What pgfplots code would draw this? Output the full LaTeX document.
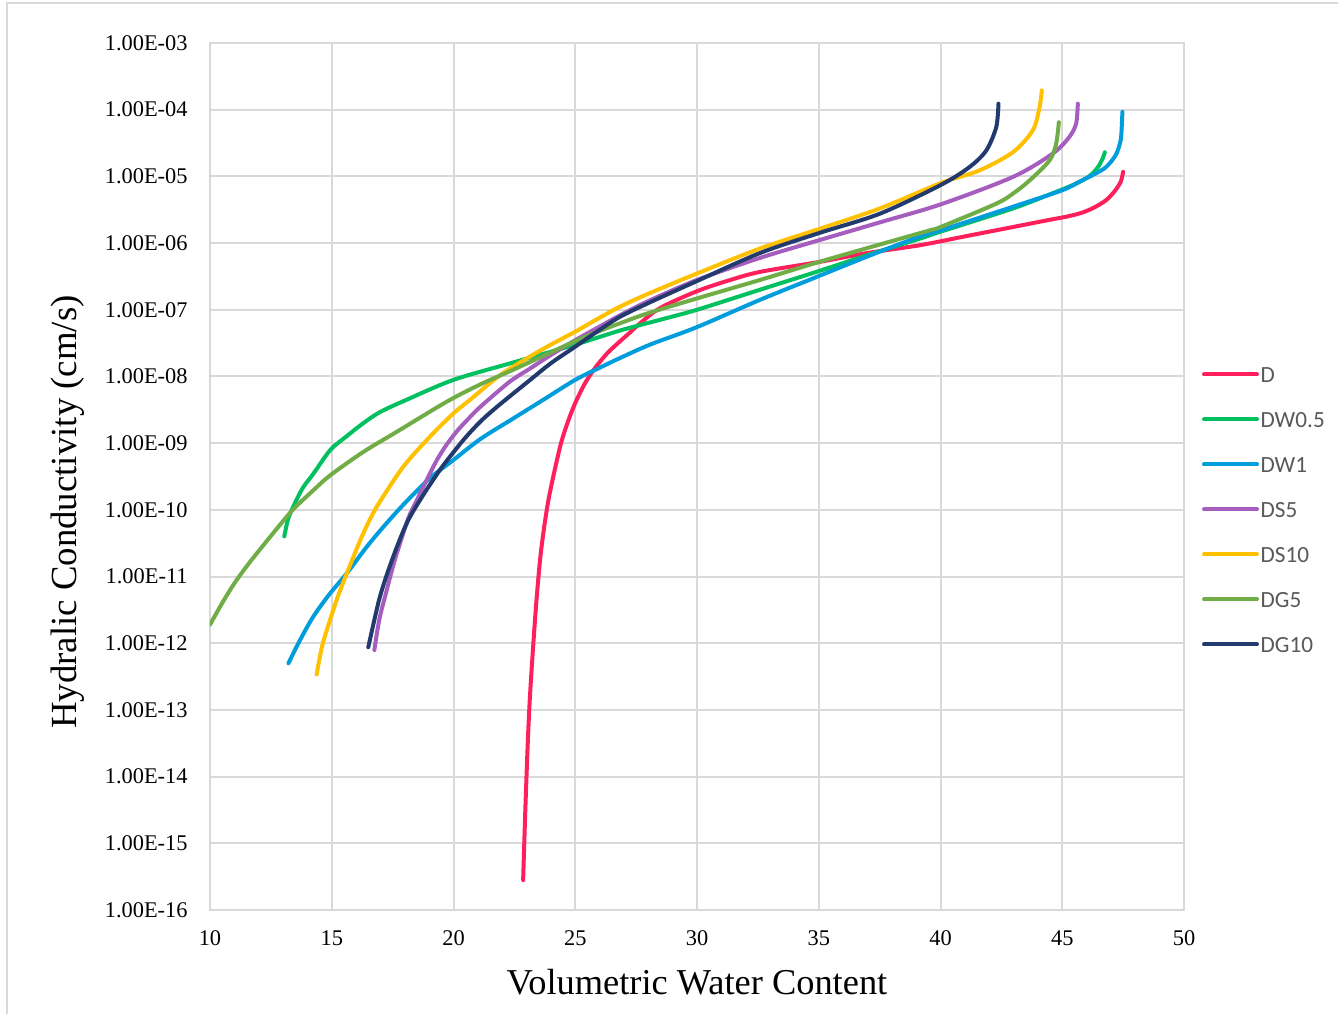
\documentclass[border=0pt]{standalone}
\usepackage{pgfplots}
\pgfplotsset{compat=1.18}
\usepackage{fontspec}
\setmainfont{Liberation Serif}
\newfontfamily\legendfont{Carlito}
\definecolor{cD}{HTML}{FF1F5A}
\definecolor{cDW05}{HTML}{00C060}
\definecolor{cDW1}{HTML}{009DDC}
\definecolor{cDS5}{HTML}{A55EBE}
\definecolor{cDS10}{HTML}{FFC000}
\definecolor{cDG5}{HTML}{70AD47}
\definecolor{cDG10}{HTML}{223A6E}
\definecolor{gridgray}{HTML}{D9D9D9}
\definecolor{legtext}{HTML}{595959}
\begin{document}
\begin{tikzpicture}
\useasboundingbox (-105bp,-52bp) rectangle (564bp,455bp);
\draw[gridgray, line width=1bp] (-101.5bp,-52bp) -- (-101.5bp,453.5bp) -- (564bp,453.5bp);
\begin{axis}[
  scale only axis,
  width=487bp, height=433.5bp,
  xmin=10, xmax=50,
  ymode=log, ymin=1e-16, ymax=1e-3,
  xtick={10,15,20,25,30,35,40,45,50},
  xticklabels={10,15,20,25,30,35,40,45,50},
  ytick={1e-16,1e-15,1e-14,1e-13,1e-12,1e-11,1e-10,1e-9,1e-8,1e-7,1e-6,1e-5,1e-4,1e-3},
  yticklabels={1.00E-16,1.00E-15,1.00E-14,1.00E-13,1.00E-12,1.00E-11,1.00E-10,1.00E-09,1.00E-08,1.00E-07,1.00E-06,1.00E-05,1.00E-04,1.00E-03},
  /pgf/number format/assume math mode=true,
  major tick length=0pt, minor tick num=0,
  yminorticks=false,
  grid=major,
  major grid style={gridgray, line width=1bp},
  axis line style={gridgray, line width=1bp},
  ticklabel style={font=\fontsize{11.2bp}{13bp}\selectfont, inner sep=0pt, text=black},
  xticklabel style={anchor=center, yshift=-14bp},
  yticklabel style={anchor=east, xshift=-11bp},
  xlabel={Volumetric Water Content},
  ylabel={Hydralic Conductivity (cm/s)},
  xlabel style={font=\fontsize{18.2bp}{22bp}\selectfont, at={(axis description cs:0.5,-0.083)}, anchor=center},
  ylabel style={font=\fontsize{18.4bp}{22bp}\selectfont, at={(axis description cs:-0.1458,0.459)}, anchor=center, rotate=0},
  legend style={draw=none, fill=none, at={(axis description cs:1.0185,0.6268)}, anchor=north west,
    inner sep=0pt, outer sep=0pt, row sep=12bp,
    nodes={inner sep=0pt, text height=8bp, text depth=2.5bp, font=\legendfont\fontsize{11.6bp}{14bp}\selectfont, text=legtext},
    /tikz/every odd column/.append style={column sep=0.8bp}},
  legend cell align=left,
  legend image code/.code={\draw[#1, line width=2bp, line cap=round] (0bp,1.3bp) -- (26.5bp,1.3bp);},
  every axis plot/.append style={line width=2bp, line join=round, line cap=round, no marks, smooth, tension=0.5},
  clip=true,
]
\addplot[cD] coordinates {
(22.86,2.8e-16) (22.95,3.2e-15) (23.05,3.2e-14) (23.14,1.6e-13) (23.28,1.0e-12) (23.42,5.0e-12)
(23.6,2.5e-11) (23.9,1.41e-10) (24.38,8.9e-10) (24.7,2.1e-9) (25.0,4.0e-9) (25.4,7.9e-9)
(25.8,1.32e-8) (26.3,2.2e-8) (26.85,3.4e-8) (27.2,4.4e-8) (27.67,6.3e-8) (28.5,1.07e-7)
(30.0,1.9e-7) (31.3,2.75e-7) (32.59,3.7e-7) (35.0,5.2e-7) (37.0,7.1e-7) (39.16,9.3e-7)
(41.0,1.26e-6) (42.97,1.74e-6) (44.5,2.24e-6) (45.2,2.5e-6) (45.8,2.85e-6) (46.3,3.4e-6) (46.8,4.4e-6)
(47.15,6.0e-6) (47.4,8.3e-6) (47.5,1.17e-5)
};
\addlegendentry{D}
\addplot[cDW05] coordinates {
(13.05,4.0e-11) (13.2,7.1e-11) (13.42,1.12e-10) (13.8,2.1e-10) (14.25,3.5e-10) (14.94,7.9e-10)
(15.6,1.26e-9) (16.3,2.0e-9) (17.0,2.95e-9) (18.09,4.5e-9) (20.0,8.9e-9) (22.45,1.62e-8)
(25.0,3.0e-8) (26.85,4.9e-8) (28.5,7.1e-8) (30.0,1.0e-7) (32.59,2.0e-7) (35.0,3.8e-7)
(37.0,6.6e-7) (39.16,1.17e-6) (40.0,1.48e-6) (42.97,3.3e-6) (44.5,5.4e-6) (45.5,7.6e-6)
(46.1,1.0e-5) (46.45,1.35e-5) (46.65,1.82e-5) (46.75,2.3e-5)
};
\addlegendentry{DW0.5}
\addplot[cDW1] coordinates {
(13.22,5.0e-13) (13.7,1.12e-12) (14.24,2.5e-12) (14.9,5.4e-12) (15.62,1.12e-11) (16.44,2.8e-11)
(17.2,6.0e-11) (18.0,1.26e-10) (19.04,3.0e-10) (20.0,5.6e-10) (21.1,1.15e-9) (22.45,2.34e-9)
(23.7,4.5e-9) (25.0,8.9e-9) (26.0,1.35e-8) (26.85,1.9e-8) (28.07,3.0e-8) (30.0,5.5e-8)
(32.59,1.41e-7) (35.0,3.2e-7) (37.0,6.3e-7) (39.16,1.26e-6) (40.0,1.55e-6) (42.97,3.5e-6)
(45.0,6.2e-6) (45.7,8.3e-6) (46.3,1.07e-5) (46.8,1.38e-5) (47.2,2.1e-5) (47.4,3.5e-5)
(47.45,6.3e-5) (47.47,9.3e-5)
};
\addlegendentry{DW1}
\addplot[cDS5] coordinates {
(16.75,7.9e-13) (16.95,2.24e-12) (17.26,6.3e-12) (17.55,1.58e-11) (17.81,3.2e-11) (18.15,7.6e-11)
(18.5,1.41e-10) (18.9,2.8e-10) (19.32,5.6e-10) (19.7,9.3e-10) (20.14,1.51e-9) (20.6,2.3e-9)
(21.1,3.5e-9) (22.3,8.3e-9)
(23.15,1.32e-8) (24.0,2.1e-8) (25.0,3.5e-8) (26.0,5.6e-8) (26.85,8.3e-8) (28.0,1.35e-7)
(30.0,2.8e-7) (32.59,6.0e-7) (35.0,1.1e-6) (37.5,2.04e-6) (40.0,3.8e-6) (42.97,9.8e-6)
(44.61,2.2e-5) (45.29,3.9e-5) (45.57,6.2e-5) (45.64,1.23e-4)
};
\addlegendentry{DS5}
\addplot[cDS10] coordinates {
(14.38,3.4e-13) (14.6,8.9e-13) (14.93,2.24e-12) (15.25,5.0e-12) (15.62,1.12e-11) (16.17,3.5e-11)
(16.6,7.6e-11) (16.99,1.35e-10) (17.95,4.5e-10) (19.04,1.26e-9) (20.0,2.8e-9) (20.69,4.5e-9)
(21.92,1.05e-8) (23.15,2.0e-8) (24.0,3.0e-8) (25.0,4.7e-8) (26.0,7.6e-8) (26.85,1.12e-7)
(28.0,1.74e-7) (30.0,3.5e-7) (32.59,8.3e-7) (35.0,1.62e-6) (37.5,3.3e-6) (40.0,7.9e-6)
(41.6,1.23e-5) (42.97,2.3e-5) (43.79,4.9e-5) (44.07,1.1e-4) (44.16,1.95e-4)
};
\addlegendentry{DS10}
\addplot[cDG5] coordinates {
(10.0,1.9e-12) (10.5,4.0e-12) (11.0,7.9e-12) (11.6,1.58e-11) (12.3,3.3e-11) (12.88,6.0e-11)
(13.42,1.02e-10) (14.2,1.9e-10) (14.94,3.3e-10) (16.3,7.4e-10) (17.67,1.48e-9) (19.73,4.2e-9)
(21.1,7.6e-9) (22.45,1.26e-8) (24.0,2.3e-8) (25.0,3.4e-8) (26.0,4.8e-8) (26.85,6.3e-8)
(28.0,8.9e-8) (30.0,1.48e-7) (32.59,2.8e-7) (35.0,5.2e-7) (37.5,9.5e-7) (39.55,1.55e-6)
(40.0,1.74e-6) (42.29,3.9e-6) (43.0,5.6e-6) (43.66,8.7e-6) (44.48,1.74e-5) (44.75,3.1e-5) (44.86,6.5e-5)
};
\addlegendentry{DG5}
\addplot[cDG10] coordinates {
(16.5,8.7e-13) (16.75,2.24e-12) (16.98,5.0e-12) (17.3,1.17e-11) (17.74,3.2e-11) (18.15,7.1e-11)
(18.63,1.41e-10) (19.1,2.6e-10) (19.59,4.7e-10) (20.41,1.12e-9) (21.1,2.1e-9) (21.7,3.3e-9)
(22.3,5.0e-9) (23.15,8.9e-9) (24.0,1.58e-8) (25.0,2.8e-8) (26.0,5.0e-8) (26.85,7.9e-8) (28.0,1.26e-7)
(30.0,2.7e-7) (32.59,7.1e-7) (35.0,1.41e-6) (37.5,2.75e-6) (40.0,7.4e-6) (41.19,1.38e-5)
(41.88,2.45e-5) (42.29,5.5e-5) (42.38,1.23e-4)
};
\addlegendentry{DG10}
\end{axis}
\end{tikzpicture}
\end{document}
